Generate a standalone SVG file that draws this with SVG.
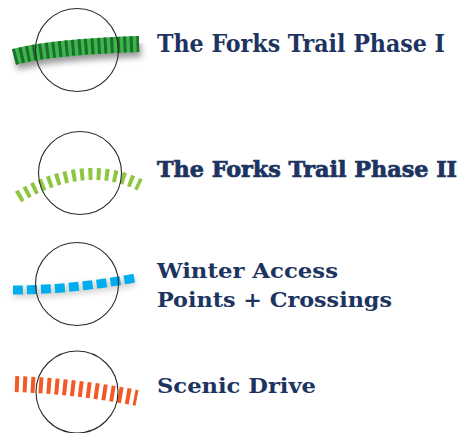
<svg xmlns="http://www.w3.org/2000/svg" width="462" height="433" viewBox="0 0 462 433">
<style>
.ring{fill:none;stroke:#2a2a2a;stroke-width:1.1}
.lbl{font-family:"DejaVu Serif Condensed","DejaVu Serif","Liberation Serif",serif;font-stretch:condensed;font-weight:bold;fill:#1d3461}
</style>
<defs>
<filter id="sh" x="-20%" y="-50%" width="140%" height="250%">
<feGaussianBlur stdDeviation="3"/>
</filter>
</defs>
<rect width="462" height="433" fill="#ffffff"/>
<g id="phase1">
<path d="M16,63 C42,56 82,52 141,50" fill="none" stroke="#000" stroke-opacity="0.4" stroke-width="14" filter="url(#sh)"/>
<path d="M14,57 C40,50 80,46 139,44" fill="none" stroke="#3db54a" stroke-width="16"/>
<path d="M14,57 C40,50 80,46 139,44" fill="none" stroke="#1a6e2e" stroke-width="16" stroke-dasharray="3 3.5"/>
<circle class="ring" cx="77" cy="50" r="41.5"/>
<text class="lbl" x="157" y="52" font-size="25" textLength="288" lengthAdjust="spacingAndGlyphs">The Forks Trail Phase I</text>
</g>
<g id="phase2">
<path d="M18,197 Q85,158 140,185" fill="none" stroke="#8dc63f" stroke-width="12" stroke-dasharray="4 4.3"/>
<circle class="ring" cx="80" cy="173" r="41.5"/>
<text class="lbl" x="157" y="177" font-size="23" stroke="#1d3461" stroke-width="0.7" textLength="300" lengthAdjust="spacingAndGlyphs">The Forks Trail Phase II</text>
</g>
<g id="winter">
<path d="M13,293 Q70,293 135,281" fill="none" stroke="#000" stroke-opacity="0.18" stroke-width="9" filter="url(#sh)"/>
<path d="M13,290 Q70,290 135,278" fill="none" stroke="#00aeef" stroke-width="9" stroke-dasharray="10 4"/>
<circle class="ring" cx="77" cy="284" r="41.5"/>
<text class="lbl" x="157" y="278" font-size="21" textLength="181" lengthAdjust="spacingAndGlyphs">Winter Access</text>
<text class="lbl" x="157" y="307" font-size="21" textLength="235" lengthAdjust="spacingAndGlyphs">Points + Crossings</text>
</g>
<g id="scenic">
<path d="M15,384 Q75,386 137,398" fill="none" stroke="#f15a24" stroke-width="16" stroke-dasharray="4 4"/>
<circle class="ring" cx="77" cy="392" r="41"/>
<text class="lbl" x="157" y="393" font-size="21" textLength="159" lengthAdjust="spacingAndGlyphs">Scenic Drive</text>
</g>
<g id="connectors"/>
</svg>
